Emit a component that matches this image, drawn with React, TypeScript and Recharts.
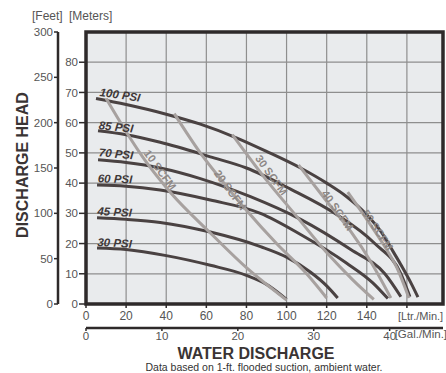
import React from "react";
import {
  CartesianGrid,
  Line,
  LineChart,
  ReferenceArea,
  ReferenceDot,
  XAxis,
  YAxis,
} from "recharts";

// Water flow in Ltr/Min (x) against discharge head in meters (y).
const psi100X = [5, 20, 40, 57, 75, 90, 107, 120, 130, 140, 147, 153, 157, 162, 165.5];
const psi100Y = [68, 66, 62.8, 59.5, 55, 50.5, 45, 40, 35.5, 29.5, 24, 17.5, 13, 7, 2.3];
const psi85X = [6, 20, 37, 62, 80, 102, 124, 144, 157, 161.5];
const psi85Y = [57.3, 56, 53.5, 48.7, 45, 38, 30, 20, 10, 2.4];
const psi70X = [6, 20, 37, 57, 82, 107, 132, 149, 157];
const psi70Y = [47.7, 46.8, 45, 41.5, 35.5, 28, 18, 10, 2.4];
const psi60X = [5.5, 20, 37, 62, 87, 107, 130, 143, 150.5];
const psi60Y = [39.4, 39, 37.7, 34.4, 30, 23, 13.5, 7, 1.8];
const psi45X = [5.5, 20, 37, 62, 87, 100, 112, 120, 125.5];
const psi45Y = [28.5, 28, 27, 23.8, 19, 15.5, 10.5, 6, 2];
const psi30X = [5.5, 20, 40, 62, 80, 90, 100];
const psi30Y = [18.5, 18, 16, 12.8, 9.5, 6.5, 1.5];

const scfm10X = [10, 20, 30, 42, 62, 80, 100];
const scfm10Y = [68, 57, 47, 37, 23.5, 12, 1.3];
const scfm20X = [44, 57, 70, 80, 95, 110, 120];
const scfm20Y = [63, 50, 39, 31, 20, 10, 2];
const scfm30X = [73, 90, 105, 120, 133, 143.5];
const scfm30Y = [56, 41, 29, 17, 8, 1.5];
const scfm40X = [106, 120, 132, 142, 152];
const scfm40Y = [46, 34, 24, 14, 2];
const scfm50X = [130.5, 140, 148, 155, 161];
const scfm50Y = [37, 28, 20, 12, 2];

const ltrTicks = [0, 20, 40, 60, 80, 100, 120, 140, 160];
const galTicks = [0, 10, 20, 30, 40];
const meterTicks = [0, 10, 20, 30, 40, 50, 60, 70, 80];
const feetTicks = [0, 50, 100, 150, 200, 250, 300];

const LTR_MAX = 178;
const M_MAX = 90;
const FT_MAX = 300;
const LTR_PER_GAL = 3.785;

const FONT = "'Liberation Sans', Arial, sans-serif";
const DARK = "#4a4242";
const GRAY = "#a7a19f";
const BORDER = "#2e2a2a";
const TXT = "#555";

const pts = (xs: number[], ys: number[]) => xs.map((x, i) => ({ x, y: ys[i] }));

const psiCurves = [
  { name: "100 PSI", data: pts(psi100X, psi100Y) },
  { name: "85 PSI", data: pts(psi85X, psi85Y) },
  { name: "70 PSI", data: pts(psi70X, psi70Y) },
  { name: "60 PSI", data: pts(psi60X, psi60Y) },
  { name: "45 PSI", data: pts(psi45X, psi45Y) },
  { name: "30 PSI", data: pts(psi30X, psi30Y) },
];
const scfmCurves = [
  { name: "10 SCFM", data: pts(scfm10X, scfm10Y) },
  { name: "20 SCFM", data: pts(scfm20X, scfm20Y) },
  { name: "30 SCFM", data: pts(scfm30X, scfm30Y) },
  { name: "40 SCFM", data: pts(scfm40X, scfm40Y) },
  { name: "50 SCFM", data: pts(scfm50X, scfm50Y) },
];

// the gallon axis has no series of its own, so it reads its range from chart data
const galRange = [{ gal: 0 }, { gal: LTR_MAX / LTR_PER_GAL }];

// label centres in chart units, with text rotation
const psiLabels = [
  { text: "100 PSI", x: 17, y: 69.2, angle: 8 },
  { text: "85 PSI", x: 15, y: 58.6, angle: 6 },
  { text: "70 PSI", x: 15, y: 49.7, angle: 5 },
  { text: "60 PSI", x: 14.5, y: 41.4, angle: 2 },
  { text: "45 PSI", x: 14.3, y: 30.5, angle: 3 },
  { text: "30 PSI", x: 14.3, y: 20.2, angle: 3 },
];
const scfmLabels = [
  { text: "10 SCFM", x: 37, y: 44.4, angle: 54 },
  { text: "20 SCFM", x: 72, y: 37.7, angle: 54 },
  { text: "30 SCFM", x: 92.5, y: 42.7, angle: 54 },
  { text: "40 SCFM", x: 125.5, y: 31, angle: 55 },
  { text: "50 SCFM", x: 145.5, y: 24.5, angle: 56 },
];

// ids: the axis drawn next to the plot sorts first
const X_LTR = "xa";
const X_GAL = "xb";
const Y_M = "ya";
const Y_FT = "yb";

function rotatedLabel(text: string, angle: number, color: string, italic: boolean) {
  return (props: any) => {
    const vb = props.viewBox || {};
    const cx = vb.x + (vb.width || 0) / 2;
    const cy = vb.y + (vb.height || 0) / 2;
    return (
      <text
        x={cx}
        y={cy}
        textAnchor="middle"
        dominantBaseline="central"
        transform={`rotate(${angle} ${cx} ${cy})`}
        fontFamily={FONT}
        fontSize={italic ? 11.5 : 11}
        fontWeight="bold"
        fontStyle={italic ? "italic" : "normal"}
        fill={color}
      >
        {text}
      </text>
    );
  };
}

function LtrTick(props: any) {
  const { x, y, payload } = props;
  if (payload.value === 160) {
    return (
      <text x={x - 9} y={y + 9} fontFamily={FONT} fontSize={11} fill={TXT}>
        [Ltr./Min.]
      </text>
    );
  }
  return (
    <text x={x} y={y + 9} textAnchor="middle" fontFamily={FONT} fontSize={12} fill={TXT}>
      {payload.value}
    </text>
  );
}

function GalTick(props: any) {
  const { x, y, payload } = props;
  return (
    <g>
      <text x={x} y={y + 8} textAnchor="middle" fontFamily={FONT} fontSize={11.5} fill={TXT}>
        {payload.value}
      </text>
      {payload.value === 40 && (
        <text x={x + 5} y={y + 5.5} fontFamily={FONT} fontSize={11.5} fill={TXT}>
          [Gal./Min.]
        </text>
      )}
    </g>
  );
}

export default function App() {
  return (
    <div style={{ position: "absolute", left: 0, top: 0, width: 446, height: 373, background: "#fff" }}>
      <LineChart
        width={446}
        height={373}
        data={galRange}
        margin={{ top: 32, right: 3, left: 0, bottom: 25 }}
      >
        <CartesianGrid
          xAxisId={X_LTR}
          yAxisId={Y_M}
          stroke="#8e8e8e"
          strokeWidth={1.2}
          fill="#e9ebed"
          fillOpacity={1}
        />
        <XAxis
          xAxisId={X_GAL}
          type="number"
          dataKey="gal"
          domain={[0, LTR_MAX / LTR_PER_GAL]}
          ticks={galTicks}
          allowDataOverflow
          height={20}
          axisLine={{ stroke: BORDER, strokeWidth: 2.5 }}
          tickLine={{ stroke: BORDER, strokeWidth: 1.5 }}
          tickSize={3}
          tickMargin={1}
          tick={<GalTick />}
        />
        <XAxis
          xAxisId={X_LTR}
          type="number"
          dataKey="x"
          domain={[0, LTR_MAX]}
          ticks={ltrTicks}
          allowDataOverflow
          height={24}
          axisLine={false}
          tickLine={{ stroke: BORDER, strokeWidth: 1.5 }}
          tickSize={4}
          tickMargin={3}
          tick={<LtrTick />}
        />
        <YAxis
          yAxisId={Y_FT}
          type="number"
          domain={[0, FT_MAX]}
          ticks={feetTicks}
          allowDataOverflow
          width={58}
          axisLine={{ stroke: BORDER, strokeWidth: 2.5 }}
          tickLine={{ stroke: BORDER, strokeWidth: 1.5 }}
          tickSize={4}
          tickMargin={1}
          tick={{ fill: TXT, fontSize: 11.5, fontFamily: FONT }}
        />
        <YAxis
          yAxisId={Y_M}
          type="number"
          domain={[0, M_MAX]}
          ticks={meterTicks}
          allowDataOverflow
          width={28}
          axisLine={false}
          tickLine={{ stroke: BORDER, strokeWidth: 1.5 }}
          tickSize={7}
          tickMargin={1}
          tick={{ fill: TXT, fontSize: 11.5, fontFamily: FONT }}
        />

        {psiCurves.map((c) => (
          <Line
            key={c.name}
            xAxisId={X_LTR}
            yAxisId={Y_M}
            data={c.data}
            dataKey="y"
            name={c.name}
            type="monotone"
            stroke={DARK}
            strokeWidth={3}
            dot={false}
            isAnimationActive={false}
          />
        ))}
        {scfmCurves.map((c) => (
          <Line
            key={c.name}
            xAxisId={X_LTR}
            yAxisId={Y_M}
            data={c.data}
            dataKey="y"
            name={c.name}
            type="monotone"
            stroke={GRAY}
            strokeWidth={3}
            dot={false}
            isAnimationActive={false}
          />
        ))}

        {psiLabels.map((l) => (
          <ReferenceDot
            key={l.text}
            xAxisId={X_LTR}
            yAxisId={Y_M}
            x={l.x}
            y={l.y}
            r={1}
            fill="none"
            stroke="none"
            label={rotatedLabel(l.text, l.angle, "#3f3838", true)}
          />
        ))}
        {scfmLabels.map((l) => (
          <ReferenceDot
            key={l.text}
            xAxisId={X_LTR}
            yAxisId={Y_M}
            x={l.x}
            y={l.y}
            r={1}
            fill="none"
            stroke="none"
            label={rotatedLabel(l.text, l.angle, "#8d8785", false)}
          />
        ))}

        <ReferenceArea
          xAxisId={X_LTR}
          yAxisId={Y_M}
          x1={0}
          x2={LTR_MAX}
          y1={0}
          y2={M_MAX}
          fill="none"
          fillOpacity={0}
          stroke={BORDER}
          strokeWidth={3.5}
        />
      </LineChart>
      <svg
        width={446}
        height={373}
        style={{ position: "absolute", left: 0, top: 0, pointerEvents: "none" }}
      >
        <text x={32} y={20} fontFamily={FONT} fontSize={12} fill={TXT}>
          [Feet]
        </text>
        <text x={69} y={20} fontFamily={FONT} fontSize={12} fill={TXT}>
          [Meters]
        </text>
        <text
          x={28}
          y={165}
          textAnchor="middle"
          transform="rotate(-90 28 165)"
          fontFamily={FONT}
          fontSize={16}
          fontWeight="bold"
          fill="#3a3434"
        >
          DISCHARGE HEAD
        </text>
        <text
          x={256}
          y={358.5}
          textAnchor="middle"
          fontFamily={FONT}
          fontSize={16}
          fontWeight="bold"
          fill="#3a3434"
        >
          WATER DISCHARGE
        </text>
        <text x={264} y={370.5} textAnchor="middle" fontFamily={FONT} fontSize={10.5} fill="#333">
          Data based on 1-ft. flooded suction, ambient water.
        </text>
      </svg>
    </div>
  );
}
